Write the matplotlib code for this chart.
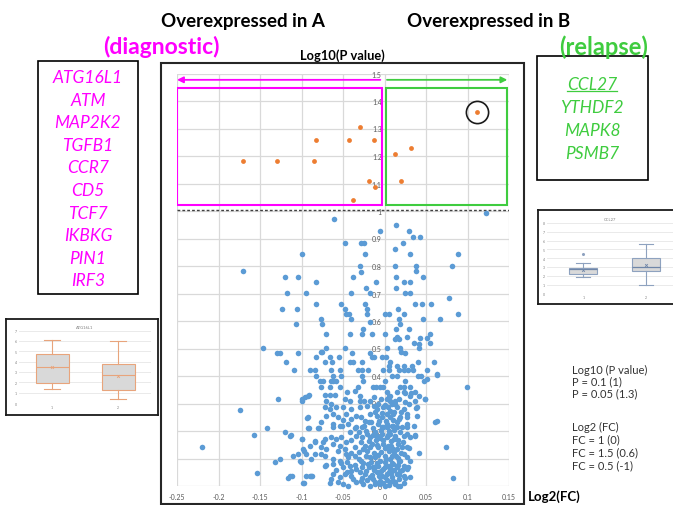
import matplotlib
matplotlib.use("Agg")
import matplotlib.pyplot as plt
from matplotlib.patches import Rectangle
from matplotlib.lines import Line2D

plt.rcParams['font.family'] = ['Lato', 'DejaVu Sans']

# ---------------- data ----------------
sig_x = [-0.170, -0.130, -0.085, -0.083, -0.043, -0.029, -0.013, -0.019, -0.011, -0.038,
         0.013, 0.032, 0.020, 0.112]
sig_y = [1.183, 1.183, 1.183, 1.257, 1.257, 1.307, 1.257, 1.109, 1.086, 1.039,
         1.206, 1.230, 1.109, 1.359]
highlight_x = [0.112]
highlight_y = [1.359]

blue_upper = [(0.122,0.993),(-0.061,0.971),(0.0135,0.949),(-0.005,0.926),(0.030,0.927),(0.034,0.905),(0.043,0.905),
 (-0.047,0.885),(-0.028,0.885),(-0.025,0.885),(0.022,0.885),(-0.099,0.842),(0.013,0.863),(-0.0235,0.842),(0.031,0.842),(0.089,0.842),
 (-0.171,0.781),(-0.0295,0.800),(-0.028,0.779),(0.013,0.800),(0.038,0.800),(0.038,0.781),(0.081,0.800),
 (-0.120,0.759),(-0.104,0.759),(-0.082,0.741),(-0.038,0.759),(-0.0106,0.741),(0.014,0.759),(0.023,0.741),(0.031,0.741),(0.046,0.759),
 (-0.118,0.701),(-0.094,0.701),(-0.040,0.701),(-0.0227,0.719),(-0.017,0.701),(0.0135,0.719),(0.025,0.701),(0.031,0.701),(0.078,0.682),
 (-0.123,0.644),(-0.106,0.644),(-0.083,0.662),(-0.052,0.662),(-0.048,0.644),(-0.023,0.662),(-0.021,0.644),(0.001,0.624),(0.005,0.624),
 (0.016,0.644),(0.024,0.624),(0.037,0.662),(0.045,0.662),(0.056,0.662),(0.089,0.624),
 (-0.107,0.589),(-0.077,0.606),(-0.075,0.589),(-0.046,0.624),(-0.043,0.624),(-0.040,0.608),(-0.0215,0.624),(-0.018,0.595),(0.018,0.608),
 (0.019,0.590),(0.046,0.608),(0.067,0.608),
 (-0.071,0.553),(-0.041,0.553),(-0.027,0.553),(-0.026,0.571),(-0.0146,0.553),(0.000,0.553),(0.014,0.571),(0.015,0.541),(0.029,0.571),
 (0.027,0.541),(0.043,0.537),(0.051,0.537),(0.055,0.553),(0.055,0.520),(0.013,0.536),(0.018,0.536),(0.041,0.518),
 (-0.146,0.503),(-0.129,0.485),(-0.126,0.485),(-0.119,0.452),(-0.104,0.485),(-0.109,0.421),(-0.070,0.503),(-0.048,0.503),(-0.039,0.485),
 (-0.018,0.485),(0.003,0.503),(0.019,0.503),(0.036,0.521),(0.042,0.503),(0.025,0.485),(0.020,0.486),
 (0.060,0.452),(0.063,0.405),(0.051,0.389),(0.099,0.360),
 (-0.077,0.486),(-0.075,0.486),(-0.082,0.468),(-0.066,0.468),(-0.072,0.452),(-0.063,0.452),(-0.055,0.468),(-0.041,0.452),(-0.038,0.452),
 (-0.027,0.452),(-0.015,0.468),(-0.013,0.468),(-0.003,0.468),(0.002,0.468),(0.007,0.452),(0.005,0.438),(0.015,0.438),(0.024,0.438),
 (0.033,0.438),(0.040,0.452)]

blue_sparse_low = [(-0.128,0.315),(-0.099,0.315),(-0.174,0.275),(-0.142,0.210),(-0.157,0.184),(-0.120,0.196),(-0.113,0.184),
 (-0.220,0.142),(-0.154,0.047),(-0.132,0.087),(-0.126,0.097),(-0.116,0.028),(-0.112,0.038),(-0.097,0.010),(0.074,0.142),(0.082,0.028),
 (0.061,0.234),(0.049,0.315),(0.038,0.282),(0.037,0.185),(0.041,0.119),
 (-0.093,0.247),(-0.091,0.210),(-0.079,0.210),(-0.084,0.161),(-0.100,0.171),(-0.104,0.116),(-0.097,0.128),(-0.095,0.116),(-0.101,0.086),
 (-0.084,0.116),(-0.090,0.038),(-0.087,0.038),(-0.071,0.076),(-0.076,0.116),(-0.074,0.161),(-0.091,0.331),
 (0.025,0.34),(0.032,0.34),(0.030,0.30),(0.027,0.25),(0.027,0.19),(0.030,0.14),(0.028,0.07),(0.025,0.03),(0.016,0.0)]

blue_mid = [(-0.090,0.422),(-0.084,0.422),(-0.064,0.422),(-0.054,0.422),(-0.032,0.422),(-0.0275,0.422),(-0.020,0.422),(-0.0014,0.422),
 (0.005,0.422),(0.017,0.422),(0.023,0.422),(0.028,0.422),(0.034,0.422),(0.051,0.422),(0.063,0.407),
 (-0.082,0.401),(-0.062,0.401),(-0.053,0.401),(-0.027,0.401),(0.009,0.401),(0.015,0.401),(0.040,0.401),(0.044,0.401),
 (-0.078,0.383),(-0.074,0.383),(-0.064,0.383),(-0.062,0.383),(-0.058,0.383),(-0.026,0.383),(0.001,0.383),(0.025,0.383),(0.047,0.383),
 (-0.076,0.359),(-0.066,0.359),(-0.054,0.359),(-0.032,0.359),(-0.014,0.359),(-0.010,0.359),(-0.006,0.359),(-0.002,0.359),(0.019,0.359),
 (0.023,0.359),(0.031,0.359),
 (-0.092,0.328),(-0.072,0.330),(-0.066,0.330),(-0.060,0.330),(-0.045,0.341),(-0.036,0.347),(-0.030,0.328),(0.003,0.341),(0.007,0.328),
 (0.015,0.341),(0.024,0.343),(0.031,0.328),(0.037,0.341),(0.042,0.328),
 (-0.100,0.308),(-0.096,0.322),(-0.070,0.310),(-0.064,0.298),(-0.048,0.316),(-0.042,0.310),(-0.030,0.308),(-0.025,0.308),(0.003,0.316),
 (0.007,0.310),(0.013,0.310),(0.017,0.316),(0.025,0.304),(0.037,0.308),(0.049,0.316),
 (-0.072,0.286),(-0.066,0.280),(-0.058,0.286),(-0.050,0.286),(-0.040,0.280),(-0.030,0.286),(-0.021,0.292),(-0.0094,0.280),(-0.0014,0.286),
 (0.0046,0.286),(0.007,0.274),(0.015,0.286),(0.023,0.280),(0.039,0.286),
 (-0.092,0.250),(-0.070,0.256),(-0.062,0.262),(-0.056,0.250),(-0.046,0.262),(-0.034,0.256),(-0.028,0.250),(-0.018,0.262),(-0.0086,0.256),
 (-0.0034,0.250),(0.0026,0.262),(0.0066,0.252),(0.0107,0.262),(0.019,0.250),(0.027,0.262),(0.039,0.256),(0.063,0.238),
 (-0.076,0.232),(-0.062,0.225),(-0.054,0.219),(-0.044,0.225),(-0.034,0.213),(-0.025,0.219),(-0.019,0.232),(-0.0074,0.225),(-0.0014,0.213),
 (0.0026,0.225),(0.0107,0.219),(0.015,0.232),(0.021,0.213),(0.027,0.225),(0.035,0.219)]

blue_low = [(-0.092,0.211),(-0.080,0.211),(-0.062,0.213),(-0.051,0.219),(-0.036,0.211),(-0.0275,0.216),(-0.0135,0.211),(-0.0034,0.216),
 (0.0026,0.213),(0.0086,0.219),(0.0147,0.213),(0.027,0.213),
 (-0.114,0.183),(-0.100,0.171),(-0.084,0.165),(-0.072,0.171),(-0.064,0.177),(-0.058,0.171),(-0.034,0.183),(-0.0275,0.177),(-0.0175,0.177),
 (-0.0094,0.183),(-0.0034,0.189),(0.0026,0.177),(0.0066,0.189),(0.0127,0.183),(0.023,0.183),(0.031,0.177),(0.037,0.183),
 (-0.098,0.135),(-0.090,0.147),(-0.076,0.143),(-0.070,0.135),(-0.062,0.153),(-0.054,0.147),(-0.048,0.135),(-0.036,0.141),(-0.0235,0.147),
 (-0.0155,0.153),(-0.0074,0.141),(-0.0014,0.153),(0.0046,0.147),(0.0107,0.135),(0.0167,0.153),(0.021,0.141),(0.027,0.141),
 (-0.110,0.110),(-0.102,0.092),(-0.088,0.098),(-0.072,0.110),(-0.062,0.098),(-0.054,0.092),(-0.044,0.104),(-0.036,0.110),(-0.028,0.092),
 (-0.022,0.110),(-0.0114,0.104),(-0.0054,0.092),(0.0006,0.110),(0.0066,0.098),(0.014,0.110),(0.019,0.092),(0.027,0.104),(0.031,0.092),
 (-0.072,0.074),(-0.062,0.080),(-0.050,0.068),(-0.042,0.074),(-0.034,0.062),(-0.0275,0.068),(-0.0195,0.080),(-0.0135,0.068),(-0.0074,0.074),
 (-0.0014,0.062),(0.0046,0.074),(0.0107,0.080),(0.0147,0.068),(0.023,0.074),(0.027,0.062),
 (-0.114,0.038),(-0.094,0.038),(-0.088,0.038),(-0.062,0.044),(-0.054,0.032),(-0.048,0.044),(-0.040,0.038),(-0.030,0.050),(-0.0235,0.044),
 (-0.0175,0.032),(-0.0094,0.050),(-0.0034,0.038),(0.0026,0.044),(0.0086,0.032),(0.0147,0.044),(0.023,0.038),(0.031,0.032),
 (-0.098,0.010),(-0.066,0.010),(-0.056,0.013),(-0.050,0.007),(-0.044,0.001),(-0.034,0.013),(-0.0255,0.007),(-0.0175,0.001),(-0.0114,0.013),
 (-0.0054,0.007),(0.0006,0.001),(0.0066,0.013),(0.0127,0.007),(0.019,0.001)]

blue_core = [(-0.031,0.196),(-0.022,0.200),(-0.012,0.197),(-0.004,0.202),(0.005,0.199),(0.012,0.204),
 (-0.028,0.160),(-0.019,0.163),(-0.010,0.166),(-0.002,0.168),(0.008,0.162),(0.016,0.168),
 (-0.031,0.122),(-0.021,0.126),(-0.013,0.120),(-0.004,0.124),(0.005,0.127),(0.012,0.122),(0.020,0.120),
 (-0.026,0.083),(-0.016,0.088),(-0.009,0.085),(0.000,0.087),(0.009,0.084),(0.017,0.090),
 (-0.022,0.054),(-0.013,0.057),(-0.004,0.056),(0.005,0.052),(0.012,0.058),(0.019,0.055),
 (-0.021,0.021),(-0.014,0.024),(-0.006,0.020),(0.003,0.023),(0.010,0.019),(0.017,0.025),
 (-0.008,0.300),(0.000,0.296),(0.009,0.298),(-0.011,0.268),(-0.003,0.266),(0.012,0.270),(0.020,0.268),
 (-0.040,0.056),(-0.045,0.088),(-0.040,0.120),(-0.046,0.160),(-0.041,0.196),(-0.050,0.240),(-0.040,0.245)]

blue_blob = [(-0.016,0.231),(-0.007,0.238),(0.002,0.236),(0.010,0.240),(-0.024,0.236),(0.018,0.242),
 (-0.014,0.184),(-0.006,0.176),(0.004,0.186),(0.011,0.172),(0.019,0.196),(-0.021,0.188),
 (-0.017,0.142),(-0.009,0.150),(0.000,0.139),(0.008,0.144),(0.015,0.136),(-0.026,0.136),
 (-0.018,0.104),(-0.008,0.112),(0.002,0.098),(0.009,0.108),(0.016,0.101),(-0.031,0.100),
 (-0.019,0.068),(-0.010,0.072),(0.000,0.070),(0.007,0.064),(0.016,0.078),(-0.036,0.076),
 (-0.015,0.040),(-0.007,0.037),(0.001,0.032),(0.008,0.046),(0.018,0.040),(-0.027,0.028),
 (-0.012,0.006),(-0.002,0.012),(0.005,0.004),(0.013,0.016),(-0.028,0.018),(-0.038,0.024),
 (-0.013,0.322),(-0.004,0.318),(0.006,0.326),(0.013,0.298),(-0.018,0.310),(-0.013,0.290),
 (-0.045,0.050),(-0.052,0.082),(-0.046,0.118),(-0.056,0.126),(-0.052,0.180),(-0.040,0.168),
 (0.022,0.160),(0.024,0.116),(0.021,0.060),(0.024,0.010),(-0.058,0.060),(-0.064,0.026)]

x_ticks = [-0.25, -0.2, -0.15, -0.1, -0.05, 0, 0.05, 0.1, 0.15]
x_tick_labels = ['-0.25', '-0.2', '-0.15', '-0.1', '-0.05', '0', '0.05', '0.1', '0.15']
y_ticks = [0, 0.1, 0.2, 0.3, 0.4, 0.5, 0.6, 0.7, 0.8, 0.9, 1.0, 1.1, 1.2, 1.3, 1.4, 1.5]
y_tick_labels = ['0', '0.1', '0.2', '0.3', '0.4', '0.5', '0.6', '0.7', '0.8', '0.9', '1', '1.1', '1.2', '1.3', '1.4', '1.5']

genes_A = ['ATG16L1', 'ATM', 'MAP2K2', 'TGFB1', 'CCR7', 'CD5', 'TCF7', 'IKBKG', 'PIN1', 'IRF3']
genes_B = ['CCL27', 'YTHDF2', 'MAPK8', 'PSMB7']

legend_lines = ['Log10 (P value)', 'P = 0.1 (1)', 'P = 0.05 (1.3)', 'Log2 (FC)', 'FC = 1 (0)', 'FC = 1.5 (0.6)', 'FC = 0.5 (-1)']

# box plot insets (stats)
atg_title = 'ATG16L1'
atg_stats = [dict(whislo=1.39, q1=1.94, med=3.45, q3=4.77, whishi=6.06, mean=3.45, fliers=[], label='1'),
             dict(whislo=0.35, q1=1.23, med=2.68, q3=3.81, whishi=5.97, mean=2.58, fliers=[], label='2')]
atg_yticks = [0, 1, 2, 3, 4, 5, 6, 7]
ccl_title = 'CCL27'
ccl_stats = [dict(whislo=1.82, q1=2.18, med=2.76, q3=2.91, whishi=3.45, mean=2.65, fliers=[4.47], label='1'),
             dict(whislo=0.98, q1=2.58, med=2.98, q3=4.07, whishi=5.64, mean=3.24, fliers=[], label='2')]
ccl_yticks = [0, 1, 2, 3, 4, 5, 6, 7, 8]

# ---------------- figure ----------------
W, H = 673, 506
fig = plt.figure(figsize=(W / 100, H / 100), dpi=100)

def fx(px):
    return px / W

def fy(py):
    return 1 - py / H

MAGENTA = '#ff00ff'
GREEN = '#3fcc3f'
BLUE = '#5b9bd5'
ORANGE = '#ed7d31'

# main axes
ax = fig.add_axes([fx(177), fy(487), (509 - 177) / W, (487 - 74.5) / H])
ax.set_xlim(-0.25, 0.15)
ax.set_ylim(0, 1.5)
ax.set_xticks(x_ticks)
ax.set_xticklabels(x_tick_labels)
ax.set_yticks(y_ticks)
ax.set_yticklabels(y_tick_labels)
ax.grid(True, color='#d9d9d9', lw=0.9)
ax.set_axisbelow(True)
for s in ['top', 'right', 'bottom']:
    ax.spines[s].set_visible(False)
ax.spines['left'].set_position(('data', 0))
ax.spines['left'].set_visible(False)
ax.tick_params(axis='y', length=0, pad=2, labelsize=5, labelcolor='#595959')
ax.tick_params(axis='x', length=0, pad=5, labelsize=5, labelcolor='#595959')

for grp in [blue_upper, blue_sparse_low, blue_mid, blue_low, blue_core, blue_blob]:
    bx = [p[0] for p in grp]
    by = [p[1] for p in grp]
    ax.scatter(bx, by, s=16, color=BLUE, lw=0, clip_on=False, zorder=3)
ax.scatter(sig_x, sig_y, s=12, color=ORANGE, lw=0, zorder=4)
ax.plot(highlight_x, highlight_y, 'o', ms=16, mfc='none', mec='#1a1a1a', mew=1.2, zorder=5)

# threshold line
ax.axhline(1.005, color='#404040', lw=1.0, ls=(0, (2, 1.5)), zorder=2)

# boxes
ax.add_patch(Rectangle((-0.2495, 1.022), 0.2465, 0.425, fill=False, ec=MAGENTA, lw=1.5, zorder=4))
ax.add_patch(Rectangle((0.0015, 1.022), 0.1465, 0.425, fill=False, ec=GREEN, lw=1.5, zorder=4))
ax.annotate('', xy=(-0.25, 1.477), xytext=(-0.005, 1.477),
            arrowprops=dict(arrowstyle='-|>', color=MAGENTA, lw=1.3, mutation_scale=9, shrinkA=0, shrinkB=0))
ax.annotate('', xy=(0.148, 1.477), xytext=(0.003, 1.477),
            arrowprops=dict(arrowstyle='-|>', color=GREEN, lw=1.3, mutation_scale=9, shrinkA=0, shrinkB=0))

# main frame
fig.patches.append(Rectangle((fx(161), fy(505)), (524 - 161) / W, (505 - 64) / H,
                             transform=fig.transFigure, fill=False, ec='#262626', lw=1.5))

# titles
fig.text(fx(243), fy(22), 'Overexpressed in A', ha='center', va='center', fontsize=13.5, fontweight='bold', color='black')
fig.text(fx(489), fy(22), 'Overexpressed in B', ha='center', va='center', fontsize=13.5, fontweight='bold', color='black')
fig.text(fx(161), fy(47), '(diagnostic)', ha='center', va='center', fontsize=16.5, fontweight='bold', color=MAGENTA)
fig.text(fx(604), fy(47), '(relapse)', ha='center', va='center', fontsize=17, fontweight='bold', color=GREEN)
fig.text(fx(342), fy(56), 'Log10(P value)', ha='center', va='center', fontsize=9.3, fontweight='bold', color='black')
fig.text(fx(528), fy(497), 'Log2(FC)', ha='left', va='center', fontsize=9.5, fontweight='bold', color='black')

# gene boxes
fig.patches.append(Rectangle((fx(38), fy(295)), 100 / W, (295 - 62) / H,
                             transform=fig.transFigure, fill=False, ec='black', lw=1.2))
for i, g in enumerate(genes_A):
    fig.text(fx(88), fy(78 + 22.6 * i), g, ha='center', va='center', fontsize=12.5, style='italic', color=MAGENTA)

fig.patches.append(Rectangle((fx(537), fy(181)), 111 / W, (181 - 57) / H,
                             transform=fig.transFigure, fill=False, ec='black', lw=1.2))
gene_texts = []
for i, g in enumerate(genes_B):
    t = fig.text(fx(592), fy(85 + 23 * i), g, ha='center', va='center', fontsize=12.5, style='italic', color=GREEN)
    gene_texts.append(t)

# legend text
leg_y = [370, 382, 394, 427, 440, 453, 466]
for txt, yy in zip(legend_lines, leg_y):
    fig.text(fx(572), fy(yy), txt, ha='left', va='center', fontsize=8, color='#333333')

# ---------------- insets ----------------
fr1 = fig.add_axes([fx(6), fy(416), 152 / W, 96 / H])
fr1.set_xticks([]); fr1.set_yticks([])
fr1.set_facecolor('white')
for s in fr1.spines.values():
    s.set_linewidth(1.3); s.set_color('#1a1a1a')
in1 = fig.add_axes([fx(19), fy(404), (151 - 19) / W, (404 - 331.5) / H])
in1.bxp(atg_stats, positions=[1, 2], widths=0.5, showmeans=True, patch_artist=True,
        boxprops=dict(facecolor='#d9d9d9', edgecolor='#e8a47c', lw=0.8),
        whiskerprops=dict(color='#e8a47c', lw=0.8), capprops=dict(color='#e8a47c', lw=0.8),
        medianprops=dict(color='#e8a47c', lw=0.8),
        meanprops=dict(marker='x', markersize=2, markeredgecolor='#e8a47c', markeredgewidth=0.6))
in1.set_xlim(0.5, 2.5)
in1.set_ylim(0, 7)
in1.set_yticks(atg_yticks)
in1.grid(axis='y', color='#e6e6e6', lw=0.6)
in1.set_axisbelow(True)
for s in in1.spines.values():
    s.set_visible(False)
in1.tick_params(length=0, labelsize=2.5, labelcolor='#7f7f7f', pad=1.5)
in1.set_title(atg_title, fontsize=3, color='#7f7f7f', pad=2)

fr2 = fig.add_axes([fx(538), fy(305), (690 - 538) / W, (305 - 211) / H])
fr2.set_xticks([]); fr2.set_yticks([])
fr2.set_facecolor('white')
for s in fr2.spines.values():
    s.set_linewidth(1.3); s.set_color('#1a1a1a')
in2 = fig.add_axes([fx(546.7), fy(294.3), (673 - 546.7) / W, (294.3 - 224) / H])
in2.bxp(ccl_stats, positions=[1, 2], widths=0.45, showmeans=True, patch_artist=True,
        boxprops=dict(facecolor='#d9d9d9', edgecolor='#8ea2bf', lw=0.8),
        whiskerprops=dict(color='#8ea2bf', lw=0.8), capprops=dict(color='#8ea2bf', lw=0.8),
        medianprops=dict(color='#6f86a8', lw=0.9),
        meanprops=dict(marker='x', markersize=2, markeredgecolor='#6f86a8', markeredgewidth=0.6),
        flierprops=dict(marker='o', markersize=1.2, markerfacecolor='#8ea2bf', markeredgecolor='#8ea2bf'))
in2.set_xlim(0.413, 2.437)
in2.set_ylim(0, 8)
in2.set_yticks(ccl_yticks)
in2.grid(axis='y', color='#e6e6e6', lw=0.6)
in2.set_axisbelow(True)
for s in in2.spines.values():
    s.set_visible(False)
in2.tick_params(length=0, labelsize=2.5, labelcolor='#7f7f7f', pad=1.5)
in2.set_title(ccl_title, fontsize=3, color='#7f7f7f', pad=2)

# underline for first gene of B list
fig.canvas.draw()
bb = gene_texts[0].get_window_extent()
inv = fig.transFigure.inverted()
(x0, y0), (x1, y1) = inv.transform([(bb.x0, bb.y0), (bb.x1, bb.y0)])
fig.lines.append(Line2D([x0, x1], [y0 + 1.5 / H, y0 + 1.5 / H], transform=fig.transFigure, color=GREEN, lw=0.9))

fig.savefig('out.png', dpi=100)
